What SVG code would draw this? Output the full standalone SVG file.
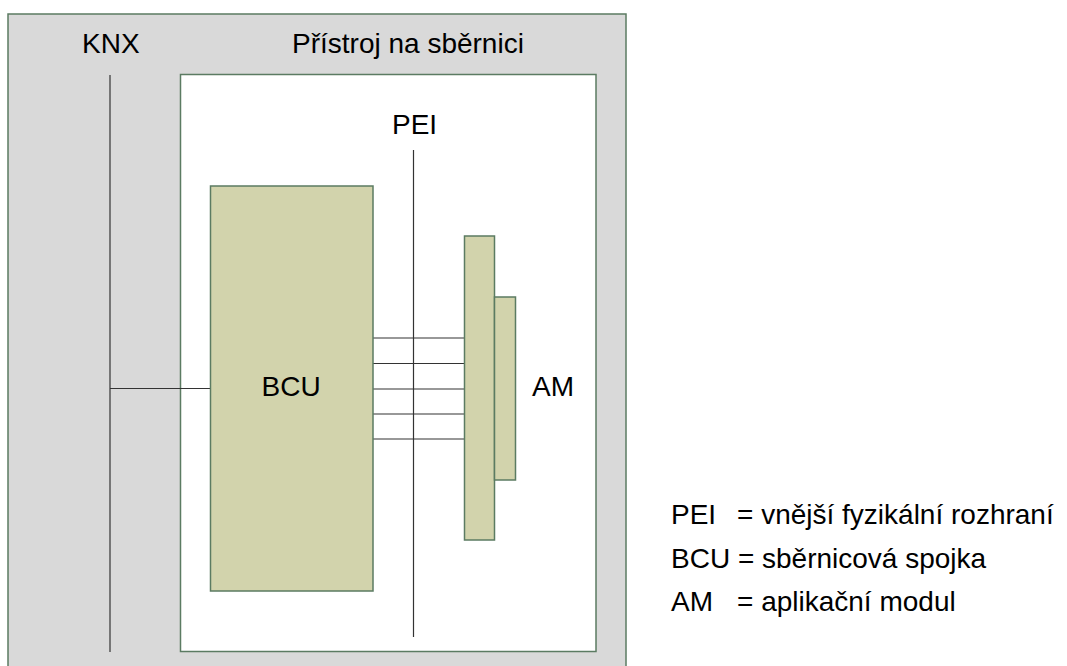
<svg xmlns="http://www.w3.org/2000/svg" width="1067" height="666" viewBox="0 0 1067 666">
<style>
.frame{stroke:#5b7b62;stroke-width:1.5}
.blk{fill:#d2d3ac;stroke:#5b7b62;stroke-width:1.5}
.wire{stroke:#333;stroke-width:1.2;fill:none}
text{font-family:"Liberation Sans",Arial,sans-serif;font-size:28px;fill:#000}
</style>
<rect width="1067" height="666" fill="#fff"/>
<g id="device-outer">
<rect class="frame" x="8" y="14" width="618" height="720" fill="#d9d9d9"/>
<text x="82" y="53">KNX</text>
<text x="292" y="53">Přístroj na sběrnici</text>
</g>
<g id="device-inner">
<rect class="frame" x="180.5" y="74.5" width="415.5" height="577" fill="#fff"/>
<text x="392" y="134">PEI</text>
</g>
<g id="connectors">
<line class="wire" x1="110" y1="75" x2="110" y2="652"/>
<line class="wire" x1="413.5" y1="150" x2="413.5" y2="637"/>
<line class="wire" x1="110" y1="388.5" x2="210" y2="388.5"/>
<line class="wire" x1="373" y1="338" x2="464" y2="338"/>
<line class="wire" x1="373" y1="363.5" x2="464" y2="363.5"/>
<line class="wire" x1="373" y1="389" x2="464" y2="389"/>
<line class="wire" x1="373" y1="414" x2="464" y2="414"/>
<line class="wire" x1="373" y1="439" x2="464" y2="439"/>
</g>
<g id="bcu">
<rect class="blk" x="210.5" y="186" width="162.5" height="405"/>
<text x="261.5" y="396">BCU</text>
</g>
<g id="am">
<rect class="blk" x="464.5" y="236" width="30" height="304"/>
<rect class="blk" x="494.5" y="297" width="21" height="183"/>
<text x="532" y="396">AM</text>
</g>
<g id="legend">
<text x="671" y="524">PEI<tspan x="737">= vnější fyzikální rozhraní</tspan></text>
<text x="671" y="568">BCU = sběrnicová spojka</text>
<text x="671" y="611">AM<tspan x="737">= aplikační modul</tspan></text>
</g>
</svg>
